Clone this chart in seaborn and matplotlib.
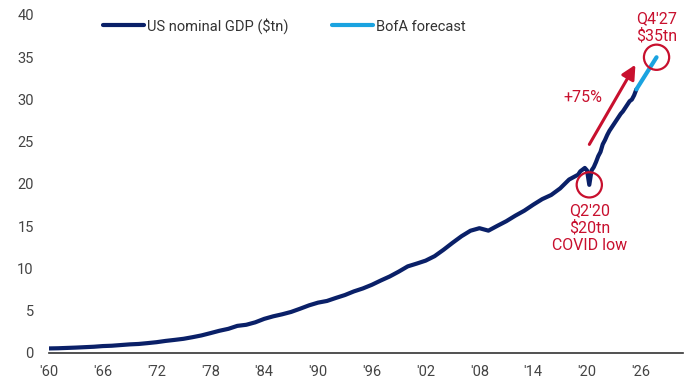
import matplotlib
matplotlib.use("Agg")
import matplotlib.pyplot as plt
import seaborn as sns
import pandas as pd
import numpy as np
from matplotlib.lines import Line2D

# ---- data ----
annual_years = list(range(1960, 2019))
annual_gdp = [0.54, 0.56, 0.60, 0.64, 0.69, 0.74, 0.82, 0.86, 0.94, 1.02,
              1.07, 1.17, 1.28, 1.43, 1.55, 1.68, 1.87, 2.08, 2.35, 2.63,
              2.86, 3.21, 3.34, 3.63, 4.04, 4.34, 4.58, 4.86, 5.24, 5.64,
              5.96, 6.16, 6.52, 6.86, 7.29, 7.64, 8.07, 8.58, 9.06, 9.63,
              10.25, 10.58, 10.93, 11.46, 12.22, 13.04, 13.82, 14.47, 14.77, 14.48,
              15.05, 15.60, 16.25, 16.84, 17.55, 18.21, 18.70, 19.48, 20.53]
q_time = [2019.0, 2019.25, 2019.5, 2019.75,
          2020.0, 2020.25, 2020.5, 2020.75,
          2021.0, 2021.25, 2021.5, 2021.75,
          2022.0, 2022.25, 2022.5, 2022.75,
          2023.0, 2023.25, 2023.5, 2023.75,
          2024.0, 2024.25, 2024.5, 2024.75,
          2025.0, 2025.25, 2025.5]
q_gdp = [21.1, 21.5, 21.7, 21.9,
         21.6, 19.9, 21.6, 22.0,
         22.6, 23.3, 23.8, 24.7,
         25.2, 25.8, 26.3, 26.7,
         27.1, 27.5, 27.9, 28.3,
         28.6, 29.0, 29.4, 29.8,
         30.0, 30.5, 31.2]
fc_time = [2025.5, 2027.75]
fc_gdp = [31.2, 35.0]

tick_years = list(range(1960, 2027, 6))
tick_labels = ["'60", "'66", "'72", "'78", "'84", "'90", "'96", "'02", "'08", "'14", "'20", "'26"]
y_ticks = [0, 5, 10, 15, 20, 25, 30, 35, 40]

s1 = "US nominal GDP ($tn)"
s2 = "BofA forecast"
df = pd.concat([
    pd.DataFrame({"t": annual_years + q_time, "gdp": annual_gdp + q_gdp, "series": s1}),
    pd.DataFrame({"t": fc_time, "gdp": fc_gdp, "series": s2}),
], ignore_index=True)

NAVY = "#0A2068"
LBLUE = "#1AA3E0"
RED = "#C8102E"
GREY = "#333333"

sns.set_theme(style="white")
plt.rcParams["font.family"] = ["Roboto", "DejaVu Sans"]

fig = plt.figure(figsize=(6.94, 3.88), dpi=100)
ax = fig.add_axes([49/694, 1-353/388, (683-49)/694, (353-15)/388])

sns.lineplot(data=df, x="t", y="gdp", hue="series", palette={s1: NAVY, s2: LBLUE},
             linewidth=3.0, ax=ax, legend=False, sort=False)

ax.set_xlim(1960.0, 2030.7)
ax.set_ylim(0, 40)
ax.set_xticks(tick_years)
ax.set_xticklabels(tick_labels)
ax.set_yticks(y_ticks)
ax.tick_params(axis="both", length=0, labelsize=10.5, colors="#444444")
ax.tick_params(axis="y", pad=11)
ax.tick_params(axis="x", pad=9)
ax.set_xlabel("")
ax.set_ylabel("")
for s in ["top", "right", "left"]:
    ax.spines[s].set_visible(False)
ax.spines["bottom"].set_color(GREY)
ax.spines["bottom"].set_linewidth(1.2)
ax.grid(False)

# legend
handles = [Line2D([0], [0], color=NAVY, lw=3), Line2D([0], [0], color=LBLUE, lw=3)]
fig.legend(handles, [s1, s2], loc="center left", bbox_to_anchor=(103/694, 1-26/388),
           ncol=2, frameon=False, fontsize=10.5, handlelength=2.8, handletextpad=0.2,
           columnspacing=3.0, borderpad=0, borderaxespad=0, labelcolor="#333333")

# annotations
ax.scatter([q_time[5], fc_time[-1]], [q_gdp[5], fc_gdp[-1]], s=330, facecolors="none",
           edgecolors=RED, linewidths=1.6, zorder=5)
ax.annotate("", xy=(2025.55, 34.4), xytext=(2020.1, 24.4),
            arrowprops=dict(arrowstyle="-|>,head_length=0.7,head_width=0.35", color=RED, lw=2.2))
ax.text(2019.5, 30.2, "+75%", color=RED, fontsize=11.5, ha="center", va="center")
ax.text(2027.8, 38.5, "Q4'27\n$35tn", color=RED, fontsize=11.5, ha="center", va="center",
        linespacing=1.15)
ax.text(2020.3, 14.8, "Q2'20\n$20tn\nCOVID low", color=RED, fontsize=11.5, ha="center",
        va="center", linespacing=1.15)

fig.savefig("out.png", dpi=100)
